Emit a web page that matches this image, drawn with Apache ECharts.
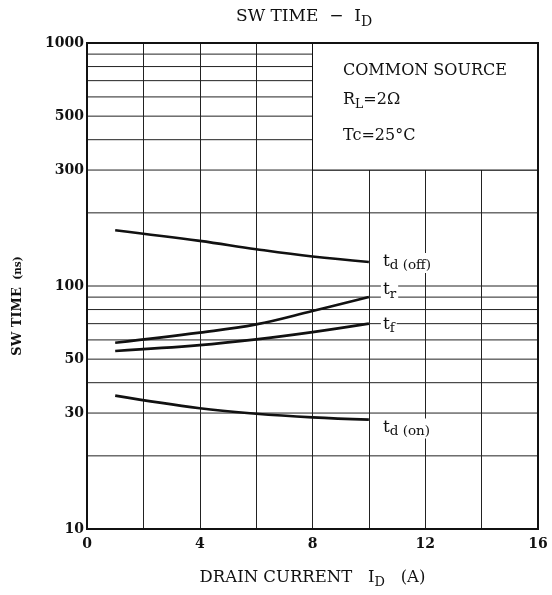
<!DOCTYPE html>
<html><head><meta charset="utf-8">
<script src="https://cdn.jsdelivr.net/npm/echarts@6/dist/echarts.min.js"></script>
<style>html,body{margin:0;padding:0;background:#fff}#c{width:552px;height:595px}</style>
</head><body><div id="c"></div>
<script>
// Data
const drainCurrent = [1, 4, 6, 8, 10];
const tdOff = [169.7, 153.3, 141.7, 132.2, 125.6];
const tRise = [58.4, 64.3, 69.5, 78.9, 90.1];
const tFall = [54.0, 57.1, 60.3, 64.6, 70.0];
const tdOn = [35.4, 31.4, 29.8, 28.8, 28.2];
const xRange = [0, 16];
const yRange = [10, 1000];
const xTickLabels = [0, 4, 8, 12, 16];
const yTickLabels = [10, 30, 50, 100, 300, 500, 1000];
const yGridLines = [20, 30, 40, 50, 60, 70, 80, 90, 100, 200, 300, 400, 500, 600, 700, 800, 900];
const boxX = [8, 16];
const boxY = [300, 1000];

const FONT = 'DejaVu Serif';
const INK = '#111';
const chart = echarts.init(document.getElementById('c'));
const pair = a => drainCurrent.map((x, i) => [x, a[i]]);

const subRich = {
  t: { fontFamily: FONT, fontSize: 17, color: INK, lineHeight: 20, verticalAlign: 'top' },
  s: { fontFamily: FONT, fontSize: 13.5, color: INK, lineHeight: 20, padding: [6, 0, 0, 0], verticalAlign: 'top' }
};
function curve(name, arr, text, offset) {
  return {
    name, type: 'line', data: pair(arr), smooth: 0.4, showSymbol: false, z: 5,
    lineStyle: { color: INK, width: 2.6 },
    endLabel: {
      show: true, formatter: text, backgroundColor: '#fff', padding: [0, 2, 0, 2],
      distance: 12, offset, rich: subRich
    }
  };
}
const hLines = Array.from(new Set(yGridLines.concat(yTickLabels))).sort((a, b) => a - b)
  .map(v => [xRange[0], v, xRange[1]]);

chart.setOption({
  animation: false,
  grid: { left: 87, right: 14, top: 43, bottom: 66 },
  xAxis: {
    type: 'value', min: xRange[0], max: xRange[1], interval: 2,
    axisLine: { show: false },
    axisTick: { show: false },
    axisLabel: { fontFamily: FONT, fontSize: 14, fontWeight: 'bold', color: INK, margin: 8,
      formatter: v => xTickLabels.includes(v) ? String(v) : '' },
    splitLine: { show: true, lineStyle: { color: '#222', width: 1 } },
    name: '{a|DRAIN CURRENT   I}{b|D}{a|   (A)}', nameLocation: 'middle', nameGap: 40,
    nameTextStyle: { rich: {
      a: { fontFamily: FONT, fontSize: 16.5, color: INK, lineHeight: 22, verticalAlign: 'top' },
      b: { fontFamily: FONT, fontSize: 13, color: INK, lineHeight: 22, padding: [7, 0, 0, 0], verticalAlign: 'top' } } }
  },
  yAxis: {
    type: 'log', logBase: 10, min: yRange[0], max: yRange[1],
    axisLine: { show: false }, axisTick: { show: false }, axisLabel: { show: false }, splitLine: { show: false }
  },
  graphic: [
    { type: 'text', left: 236, top: 8, z: 20, style: { text: '{a|SW TIME  −  I}{b|D}', rich: {
      a: { fontFamily: FONT, fontSize: 17, fill: INK, lineHeight: 24, verticalAlign: 'top' },
      b: { fontFamily: FONT, fontSize: 14, fill: INK, lineHeight: 24, padding: [7, 0, 0, 0], verticalAlign: 'top' } } } },
    { type: 'text', x: 18, y: 306, rotation: Math.PI / 2, z: 20,
      style: { text: '{a|SW TIME}{b|  (ns)}', align: 'center', verticalAlign: 'middle', rich: {
        a: { fontFamily: FONT, fontSize: 13, fontWeight: 'bold', fill: INK },
        b: { fontFamily: FONT, fontSize: 10.5, fontWeight: 'bold', fill: INK } } } },
    { type: 'text', left: 343, top: 63, z: 20, style: { text: 'COMMON SOURCE', font: '16px "DejaVu Serif"', fill: INK } },
    { type: 'text', left: 343, top: 92, z: 20, style: { text: '{a|R}{b|L}{a|=2Ω}', rich: {
      a: { fontFamily: FONT, fontSize: 16, fill: INK, lineHeight: 20, verticalAlign: 'top' },
      b: { fontFamily: FONT, fontSize: 12.5, fill: INK, lineHeight: 20, padding: [6, 0, 0, 0], verticalAlign: 'top' } } } },
    { type: 'text', left: 343, top: 128, z: 20, style: { text: 'Tc=25°C', font: '16px "DejaVu Serif"', fill: INK } }
  ],
  series: [{
    name: 'hgrid', type: 'custom', z: 1, silent: true, clip: false,
    data: hLines, encode: { x: [0, 2], y: 1 },
    renderItem: (params, api) => {
      const v = api.value(1);
      const a = api.coord([api.value(0), v]);
      const b = api.coord([api.value(2), v]);
      const children = [{ type: 'line', shape: { x1: a[0], y1: a[1], x2: b[0], y2: b[1] },
        style: { stroke: '#222', lineWidth: 1 } }];
      if (yTickLabels.includes(v)) {
        children.push({ type: 'text', style: { text: String(v), x: a[0] - 3, y: a[1],
          align: 'right', verticalAlign: 'middle', font: 'bold 14px "DejaVu Serif"', fill: INK } });
      }
      return { type: 'group', children };
    }
  }, {
    name: 'box', type: 'custom', z: 3, silent: true, clip: false,
    data: [[boxX[0], boxY[0], boxX[1], boxY[1], 1], [xRange[0], yRange[0], xRange[1], yRange[1], 2]],
    encode: { x: [0, 2], y: [1, 3] },
    renderItem: (params, api) => {
      const p0 = api.coord([api.value(0), api.value(3)]);
      const p1 = api.coord([api.value(2), api.value(1)]);
      const frame = api.value(4) === 2;
      return { type: 'rect', z2: frame ? 10 : 1,
        shape: { x: p0[0], y: p0[1], width: p1[0] - p0[0], height: p1[1] - p0[1] },
        style: { fill: frame ? 'none' : '#fff', stroke: INK, lineWidth: frame ? 2 : 1 } };
    }
  },
    curve('td(off)', tdOff, '{t|t}{s|d (off)}', [0, 1]),
    curve('tr', tRise, '{t|t}{s|r}', [0, -6]),
    curve('tf', tFall, '{t|t}{s|f}', [0, 2]),
    curve('td(on)', tdOn, '{t|t}{s|d (on)}', [0, 9])
  ]
});
</script></body></html>
